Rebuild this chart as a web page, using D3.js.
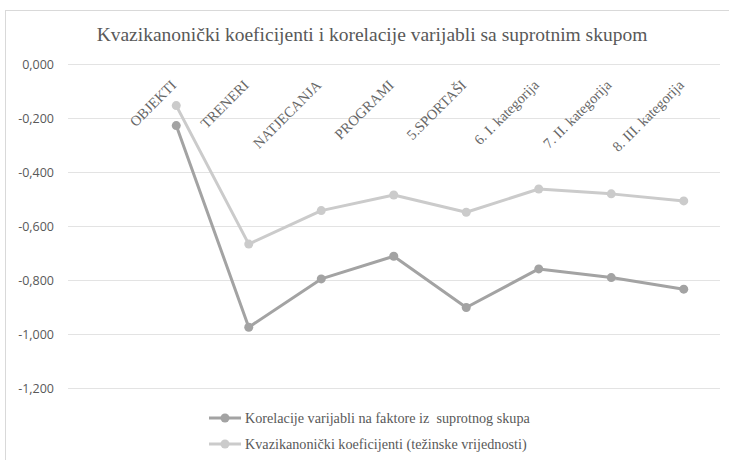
<!DOCTYPE html>
<html>
<head>
<meta charset="utf-8">
<script src="https://cdn.jsdelivr.net/npm/d3@7"></script>
<style>
  body { margin: 0; background: #fff; }
  svg { display: block; }
</style>
</head>
<body>
<div id="chart"></div>
<script>
let categories = ['OBJEKTI', 'TRENERI', 'NATJECANJA', 'PROGRAMI', '5.SPORTAŠI', '6. I. kategorija', '7. II. kategorija', '8. III. kategorija']
let korelacije = [-0.228, -0.975, -0.796, -0.712, -0.902, -0.759, -0.791, -0.834]
let kvazikanonicki = [-0.154, -0.667, -0.543, -0.485, -0.549, -0.463, -0.481, -0.507]
let yTicks = [0, -0.2, -0.4, -0.6, -0.8, -1.0, -1.2]
let seriesNames = ['Korelacije varijabli na faktore iz \u00a0suprotnog skupa', 'Kvazikanonički koeficijenti (težinske vrijednosti)']
let seriesColors = ['#a3a3a3', '#cbcbcb']

let width = 729
let height = 460
let serif = '"Liberation Serif", "DejaVu Serif", serif'
let sans = '"Open Sans", "Liberation Sans", sans-serif'
let textColor = '#595959'

let svg = d3.select('#chart').append('svg')
    .attr('width', width)
    .attr('height', height)

// chart frame
svg.append('rect')
    .attr('x', 5.5).attr('y', 10.5)
    .attr('width', width + 10).attr('height', height + 10)
    .attr('fill', '#fff')
    .attr('stroke', '#d9d9d9')

let x = d3.scaleBand().domain(categories).range([140, 720])
let y = d3.scaleLinear().domain([-1.2, 0]).range([388, 64])
let cx = d => x(d) + x.bandwidth() / 2

// gridlines + y labels
let fmt = v => d3.format('.3f')(v).replace('.', ',').replace('−', '-')
let grid = svg.append('g')
grid.selectAll('line').data(yTicks).join('line')
    .attr('x1', 68).attr('x2', 720)
    .attr('y1', d => Math.round(y(d)) + 0.5)
    .attr('y2', d => Math.round(y(d)) + 0.5)
    .attr('stroke', '#e3e3e3')
grid.selectAll('text').data(yTicks).join('text')
    .attr('x', 54)
    .attr('y', d => y(d) + 4.5)
    .attr('text-anchor', 'end')
    .attr('font-family', sans)
    .attr('font-size', 12.5)
    .attr('fill', textColor)
    .text(d => d === 0 ? '0,000' : fmt(d))

// title
svg.append('text')
    .attr('x', 372).attr('y', 41)
    .attr('text-anchor', 'middle')
    .attr('font-family', serif)
    .attr('font-size', 19.5)
    .attr('fill', textColor)
    .text('Kvazikanonički koeficijenti i korelacije varijabli sa suprotnim skupom')

// category labels, rotated
svg.append('g').selectAll('text').data(categories).join('text')
    .attr('transform', d => 'translate(' + (cx(d) + 1) + ',86) rotate(-45)')
    .attr('text-anchor', 'end')
    .attr('font-family', serif)
    .attr('font-size', 14.5)
    .attr('fill', '#666')
    .text(d => d)

// series
let line = d3.line().x((d, i) => cx(categories[i])).y(d => y(d))
let allSeries = [korelacije, kvazikanonicki]
allSeries.forEach(function(vals, s) {
    let g = svg.append('g')
    g.append('path')
        .datum(vals)
        .attr('d', line)
        .attr('fill', 'none')
        .attr('stroke', seriesColors[s])
        .attr('stroke-width', 3)
        .attr('stroke-linejoin', 'round')
    g.selectAll('circle').data(vals).join('circle')
        .attr('cx', (d, i) => cx(categories[i]))
        .attr('cy', d => y(d))
        .attr('r', 4.5)
        .attr('fill', seriesColors[s])
})

// legend
let legend = svg.append('g')
seriesNames.forEach(function(name, s) {
    let ly = 418 + s * 26
    legend.append('line')
        .attr('x1', 209).attr('x2', 241)
        .attr('y1', ly).attr('y2', ly)
        .attr('stroke', seriesColors[s])
        .attr('stroke-width', 3)
    legend.append('circle')
        .attr('cx', 225).attr('cy', ly).attr('r', 4.5)
        .attr('fill', seriesColors[s])
    legend.append('text')
        .attr('x', 245).attr('y', ly + 5)
        .attr('font-family', serif)
        .attr('font-size', 14.2)
        .attr('fill', textColor)
        .text(name)
})
</script>
</body>
</html>
